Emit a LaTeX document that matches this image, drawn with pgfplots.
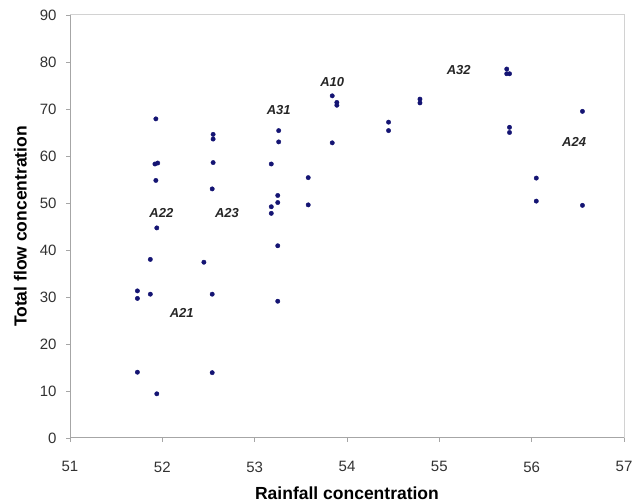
\documentclass[border=0pt]{standalone}
\usepackage{fontspec}
\setmainfont{Liberation Sans}
\usepackage{pgfplots}
\pgfplotsset{compat=1.18}

\definecolor{dotblue}{RGB}{20,20,115}
\definecolor{ticktext}{RGB}{50,50,50}

\begin{document}
\begin{tikzpicture}
\begin{axis}[
    scale only axis,
    width=554pt, height=423pt,
    xmin=51, xmax=57, ymin=0, ymax=90,
    xtick distance=1, ytick distance=10,
    axis lines*=left,
    axis line style={draw=gray!70, line width=1pt},
    tick align=outside,
    major tick length=4pt,
    tick style={draw=gray!70, line width=0.8pt},
    /pgf/number format/assume math mode=true,
    ticklabel style={font=\fontsize{15}{17}\selectfont, text=ticktext},
    xticklabel style={yshift=-16pt},
    yticklabel style={xshift=-6pt},
    xlabel={\bfseries Rainfall concentration},
    ylabel={\bfseries Total flow concentration},
    label style={font=\fontsize{17.5}{20}\selectfont},
    xlabel style={yshift=-8pt},
    ylabel style={yshift=6pt},
    clip=false,
]
\addplot[only marks, mark=*, mark size=2.2pt, color=dotblue] coordinates {
(51.73,31.3) (51.73,29.7) (51.73,14.0) (51.87,38.0) (51.87,30.6)
(51.93,67.9) (51.92,58.3) (51.95,58.5) (51.93,54.8) (51.94,44.7) (51.94,9.4)
(52.45,37.4) (52.55,64.6) (52.55,63.6) (52.55,58.6) (52.54,53.0) (52.54,30.6) (52.54,13.9)
(53.18,58.3) (53.18,49.2) (53.18,47.8) (53.26,65.4) (53.26,63.0) (53.25,51.6)
(53.25,50.1) (53.25,40.9) (53.25,29.1)
(53.58,55.4) (53.58,49.6)
(53.84,72.8) (53.89,71.4) (53.89,70.8) (53.84,62.8)
(54.45,67.2) (54.45,65.4)
(54.79,72.1) (54.79,71.3)
(55.73,78.5) (55.73,77.5) (55.76,77.5) (55.76,66.1) (55.76,65.0)
(56.05,55.3) (56.05,50.4)
(56.55,69.5) (56.55,49.5)
};
\draw[gray!35, line width=1pt] (rel axis cs:0,1) -- (rel axis cs:1,1) -- (rel axis cs:1,0);
\begin{scope}[every node/.style={font=\fontsize{13}{15}\selectfont\bfseries\itshape, text=black!85}]
\node at (axis cs:51.99,47.8) {A22};
\node at (axis cs:52.70,47.8) {A23};
\node at (axis cs:52.21,26.5) {A21};
\node at (axis cs:53.26,69.8) {A31};
\node at (axis cs:53.84,75.7) {A10};
\node at (axis cs:55.21,78.3) {A32};
\node at (axis cs:56.46,63.0) {A24};
\end{scope}
\end{axis}
\pgfresetboundingbox
\path[use as bounding box] ([shift={(-70pt,-65pt)}]current axis.south west) rectangle ([shift={(9pt,15pt)}]current axis.north east);
\end{tikzpicture}
\end{document}
